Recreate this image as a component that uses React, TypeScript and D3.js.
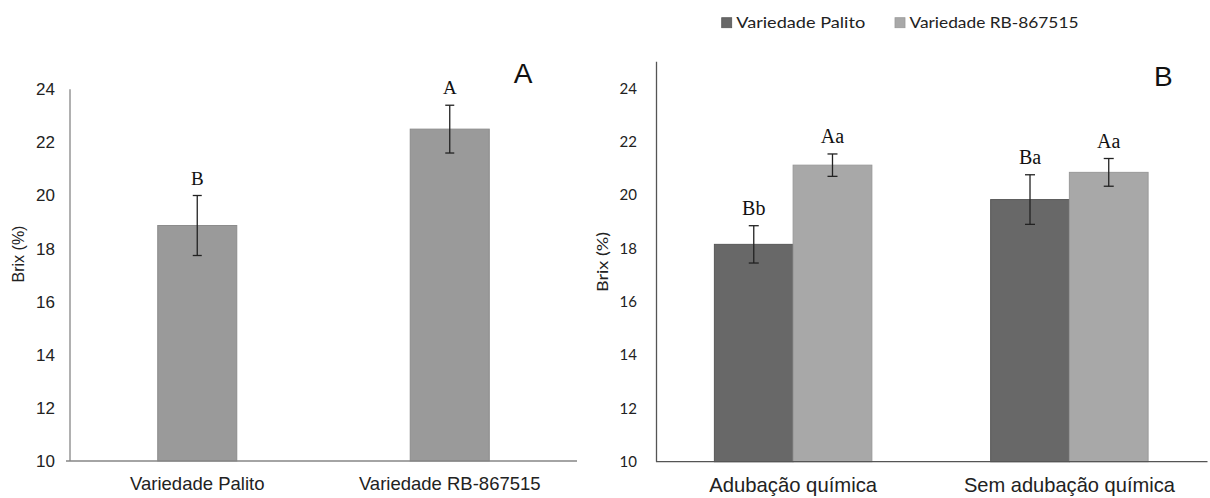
import React from "react";
import * as d3 from "d3";

// Panel A data
const catsA = ["Variedade Palito", "Variedade RB-867515"];
const meansA = [18.87, 22.5];
const errA = [1.13, 0.9];
const lettersA = ["B", "A"];
const ticksA = [10, 12, 14, 16, 18, 20, 22, 24];

// Panel B data
const groupsB = ["Adubação química", "Sem adubação química"];
const seriesB = ["Variedade Palito", "Variedade RB-867515"];
const palitoB = [18.15, 19.83];
const palitoErrB = [0.7, 0.93];
const rbB = [21.12, 20.85];
const rbErrB = [0.42, 0.52];
const lettersPalitoB = ["Bb", "Ba"];
const lettersRbB = ["Aa", "Aa"];
const ticksB = [10, 12, 14, 16, 18, 20, 22, 24];

const SANS = "'Liberation Sans', Arial, sans-serif";
const HUMAN = "Lato, 'Open Sans', sans-serif";
const SERIF = "'Liberation Serif', 'Times New Roman', serif";

function ErrBar({ x, y0, y1, cap }: { x: number; y0: number; y1: number; cap: number }) {
  return (
    <g stroke="#222" strokeWidth={1.3}>
      <line x1={x} x2={x} y1={y0} y2={y1} />
      <line x1={x - cap} x2={x + cap} y1={y0} y2={y0} />
      <line x1={x - cap} x2={x + cap} y1={y1} y2={y1} />
    </g>
  );
}

export default function App() {
  // ---------- Panel A ----------
  const yA = d3.scaleLinear().domain([10, 24]).range([461, 89.3]);
  const xA = d3.scaleBand<string>().domain(catsA).range([71, 576]).padding(0);
  const barWA = xA.bandwidth() * 0.313;

  // ---------- Panel B ----------
  const yB = d3.scaleLinear().domain([10, 25]).range([461.7, 61.7]);
  const x0 = d3.scaleBand<string>().domain(groupsB).range([655, 1207.5]).padding(0);
  const groupW = x0.bandwidth() * 0.57;
  const x1 = d3.scaleBand<string>().domain(seriesB).range([0, groupW]).padding(0);
  const colorB = d3.scaleOrdinal<string, string>().domain(seriesB).range(["#686868", "#a8a8a8"]);
  const strokeB = d3.scaleOrdinal<string, string>().domain(seriesB).range(["#585858", "#999999"]);
  const valsB = [palitoB, rbB];
  const errsB = [palitoErrB, rbErrB];
  const letB = [lettersPalitoB, lettersRbB];

  return (
    <svg
      width={1210}
      height={498}
      style={{ position: "absolute", left: 0, top: 0, background: "#fff" }}
    >
      <rect x={0} y={0} width={1210} height={498} fill="#fff" />
      {/* ===== Panel A ===== */}
      <g>
        {ticksA.map((t) => (
          <text
            key={t}
            x={55}
            y={yA(t)}
            dy="0.35em"
            textAnchor="end"
            fontFamily={SANS}
            fontSize={17}
            fill="#222"
          >
            {t}
          </text>
        ))}
        <text
          transform={`translate(24,${254}) rotate(-90)`}
          textAnchor="middle"
          fontFamily={SANS}
          fontSize={16}
          fill="#222"
        >
          Brix (%)
        </text>
        {catsA.map((c, i) => {
          const cx = (xA(c) as number) + xA.bandwidth() / 2;
          return (
            <g key={c}>
              <rect
                x={cx - barWA / 2}
                y={yA(meansA[i])}
                width={barWA}
                height={yA(10) - yA(meansA[i])}
                fill="#9a9a9a"
                stroke="#8c8c8c"
                strokeWidth={1}
              />
              <ErrBar x={cx} y0={yA(meansA[i] + errA[i])} y1={yA(meansA[i] - errA[i])} cap={4.5} />
              <text
                x={cx}
                y={yA(meansA[i] + errA[i]) - 11}
                textAnchor="middle"
                fontFamily={SERIF}
                fontSize={19}
                fill="#111"
              >
                {lettersA[i]}
              </text>
              <text
                x={cx}
                y={490}
                textAnchor="middle"
                fontFamily={SANS}
                fontSize={18.5}
                fill="#222"
              >
                {c}
              </text>
            </g>
          );
        })}
        <line x1={70} x2={70} y1={yA(24)} y2={yA(10)} stroke="#868686" strokeWidth={1.3} />
        <line x1={66} x2={577} y1={yA(10)} y2={yA(10)} stroke="#868686" strokeWidth={1.3} />
        <text x={523} y={83} textAnchor="middle" fontFamily={SANS} fontSize={28} fill="#111">
          A
        </text>
      </g>

      {/* ===== Panel B ===== */}
      <g>
        {seriesB.map((s, i) => {
          const lx = i === 0 ? 721.7 : 895;
          const tw = i === 0 ? 129 : 169;
          return (
            <g key={s}>
              <rect x={lx} y={17.7} width={10} height={10} fill={colorB(s)} stroke={strokeB(s)} strokeWidth={0.8} />
              <text
                x={lx + 14.5}
                y={28}
                fontFamily={HUMAN}
                fontSize={15}
                fill="#222"
                textLength={tw}
                lengthAdjust="spacingAndGlyphs"
              >
                {s}
              </text>
            </g>
          );
        })}
        {ticksB.map((t) => (
          <text
            key={t}
            x={637}
            y={yB(t)}
            dy="0.35em"
            textAnchor="end"
            fontFamily={HUMAN}
            fontSize={15}
            fill="#222"
          >
            {t}
          </text>
        ))}
        <text
          transform={`translate(608,${262}) rotate(-90)`}
          textAnchor="middle"
          fontFamily={HUMAN}
          fontSize={15}
          fill="#222"
          textLength={60}
          lengthAdjust="spacingAndGlyphs"
        >
          Brix (%)
        </text>
        {groupsB.map((g, gi) => {
          const gx = (x0(g) as number) + (x0.bandwidth() - groupW) / 2;
          const gc = (x0(g) as number) + x0.bandwidth() / 2;
          return (
            <g key={g}>
              {seriesB.map((s, si) => {
                const v = valsB[si][gi];
                const e = errsB[si][gi];
                const bx = gx + (x1(s) as number);
                const cx = bx + x1.bandwidth() / 2;
                return (
                  <g key={s}>
                    <rect
                      x={bx}
                      y={yB(v)}
                      width={x1.bandwidth()}
                      height={yB(10) - yB(v)}
                      fill={colorB(s)}
                      stroke={strokeB(s)}
                      strokeWidth={1}
                    />
                    <ErrBar x={cx} y0={yB(v + e)} y1={yB(v - e)} cap={5} />
                    <text
                      x={cx}
                      y={yB(v + e) - 11}
                      textAnchor="middle"
                      fontFamily={SERIF}
                      fontSize={20}
                      fill="#111"
                    >
                      {letB[si][gi]}
                    </text>
                  </g>
                );
              })}
              <text
                x={gc}
                y={492}
                textAnchor="middle"
                fontFamily={SANS}
                fontSize={21}
                fill="#222"
                textLength={gi === 0 ? 168 : 211}
                lengthAdjust="spacingAndGlyphs"
              >
                {g}
              </text>
            </g>
          );
        })}
        <line x1={656.5} x2={656.5} y1={yB(25)} y2={yB(10)} stroke="#555" strokeWidth={1.3} />
        <line x1={656} x2={1207.5} y1={yB(10)} y2={yB(10)} stroke="#555" strokeWidth={1.3} />
        <text x={1154} y={86} fontFamily={SANS} fontSize={28} fill="#111">
          B
        </text>
      </g>
    </svg>
  );
}
